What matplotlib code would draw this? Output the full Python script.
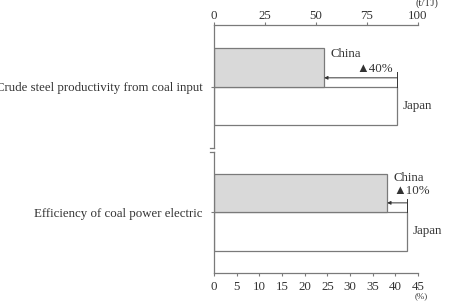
import matplotlib
matplotlib.use("Agg")
import matplotlib.pyplot as plt

plt.rcParams['font.family'] = ['Liberation Serif', 'DejaVu Serif']
plt.rcParams['font.size'] = 9.3

# data
countries = ["Japan", "China"]
steel_values = [89.7, 54.0]      # t/TJ
power_values = [42.6, 38.2]      # %
steel_gap = "▲40%"
power_gap = "▲10%"
steel_label = "Crude steel productivity from coal input"
power_label = "Efficiency of coal power electric"
steel_ticks = [0, 25, 50, 75, 100]
power_ticks = [0, 5, 10, 15, 20, 25, 30, 35, 40, 45]

text_c = "#333333"
edge_c = "#7a7a7a"
bar_colors = ["white", "#d9d9d9"]

fig = plt.figure(figsize=(4.5, 3.01), dpi=100)
ax1 = fig.add_axes([214 / 450, 1 - 148 / 301, 204 / 450, 123 / 301])
ax2 = fig.add_axes([214 / 450, 1 - 273 / 301, 204 / 450, 121 / 301])


def style(ax, top):
    for s in ["right", "bottom" if top else "top"]:
        ax.spines[s].set_visible(False)
    for s in ["left", "top" if top else "bottom"]:
        ax.spines[s].set_color(edge_c)
        ax.spines[s].set_linewidth(0.9)
    ax.tick_params(axis="x", colors=edge_c, labelcolor=text_c, length=2.5, width=0.8,
                   pad=-0.5 if top else 3)
    ax.tick_params(axis="y", colors=edge_c, labelcolor=text_c, length=2.5, width=0.8, pad=5.5)
    ax.set_facecolor("none")


# top panel
ax1.barh([0, 1], steel_values, height=1.0, color=bar_colors, edgecolor=edge_c, linewidth=0.9)
ax1.set_xlim(0, 100)
ax1.set_ylim(-1.09, 2.1)
ax1.xaxis.tick_top()
ax1.set_xticks(steel_ticks)
ax1.set_yticks([0.5])
ax1.set_yticklabels([steel_label])
style(ax1, True)
ax1.annotate("", xy=(steel_values[1], 0.73), xytext=(steel_values[0], 0.73),
             arrowprops=dict(arrowstyle="-|>", color="#333333", lw=0.7, mutation_scale=5,
                             shrinkA=0, shrinkB=0))
ax1.plot([steel_values[0], steel_values[0]], [0.88, 0.5], color="#333333", lw=0.7)
ax1.text(56.9, 1.35, "China", color=text_c, va="center", ha="left")
ax1.text(87.7, 0.96, steel_gap, color=text_c, va="center", ha="right")
ax1.text(92.6, 0.0, "Japan", color=text_c, va="center", ha="left")
ax1.text(1.044, 1.18, "(t/TJ)", transform=ax1.transAxes, color=text_c, ha="center",
         va="center", fontsize=7.5)

# bottom panel
ax2.barh([0, 1], power_values, height=1.0, color=bar_colors, edgecolor=edge_c, linewidth=0.9)
ax2.set_xlim(0, 45)
ax2.set_ylim(-1.08, 2.06)
ax2.set_xticks(power_ticks)
ax2.set_yticks([0.5])
ax2.set_yticklabels([power_label])
style(ax2, False)
ax2.annotate("", xy=(power_values[1], 0.74), xytext=(power_values[0], 0.74),
             arrowprops=dict(arrowstyle="-|>", color="#333333", lw=0.7, mutation_scale=5,
                             shrinkA=0, shrinkB=0))
ax2.plot([power_values[0], power_values[0]], [0.84, 0.5], color="#333333", lw=0.7)
ax2.text(39.5, 1.39, "China", color=text_c, va="center", ha="left")
ax2.text(39.5, 1.05, power_gap, color=text_c, va="center", ha="left")
ax2.text(43.9, 0.0, "Japan", color=text_c, va="center", ha="left")
ax2.text(1.015, -0.19, "(%)", transform=ax2.transAxes, color=text_c, ha="center",
         va="center", fontsize=6.5)

# small hooks at the broken axis ends
ax1.plot([-0.02, 0], [0, 0], transform=ax1.transAxes, color=edge_c, lw=0.9, clip_on=False)
ax2.plot([-0.02, 0], [1, 1], transform=ax2.transAxes, color=edge_c, lw=0.9, clip_on=False)

fig.savefig("out.png", dpi=100)
